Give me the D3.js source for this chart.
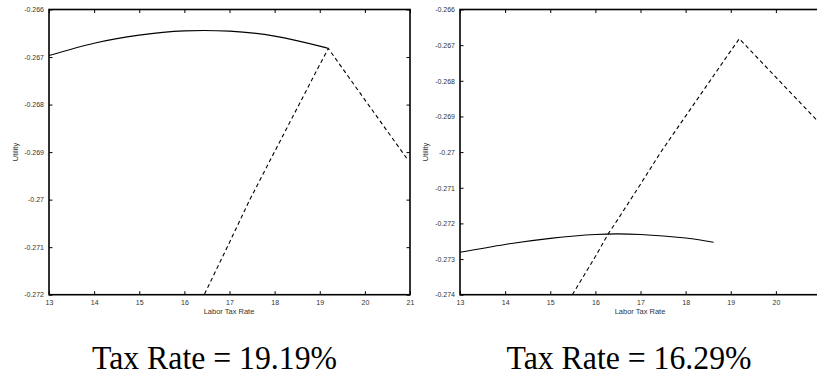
<!DOCTYPE html>
<html>
<head>
<meta charset="utf-8">
<script src="https://cdn.jsdelivr.net/npm/d3@7"></script>
<style>
  html, body { margin: 0; padding: 0; background: #fff; }
  svg { display: block; }
  .tick text { font-family: "Liberation Sans", Arial, sans-serif; font-size: 7px; fill: #333; }
  .axis-title { font-family: "Liberation Sans", Arial, sans-serif; font-size: 7.5px; fill: #333; }
  .caption { font-family: "Liberation Serif", "Times New Roman", serif; font-size: 33px; fill: #000; }
</style>
</head>
<body>
<svg id="chart" width="817" height="381"></svg>
<script>
// Labor tax rate axis ticks (shared by both panels)
const xTicks = [13, 14, 15, 16, 17, 18, 19, 20, 21];

// Utility ticks for each panel
const leftYTicks = [-0.266, -0.267, -0.268, -0.269, -0.27, -0.271, -0.272];
const rightYTicks = [-0.266, -0.267, -0.268, -0.269, -0.27, -0.271, -0.272, -0.273, -0.274];

// Solid curve, left panel
const leftSolidX = [13, 14, 15, 16, 17, 18, 19, 19.19];
const leftSolidY = [-0.26697, -0.26671, -0.26654, -0.26645, -0.266455, -0.26656, -0.26677, -0.26682];

// Solid curve, right panel
const rightSolidX = [13, 14, 15, 16, 17, 18, 18.62];
const rightSolidY = [-0.27281, -0.27259, -0.27242, -0.27231, -0.27231, -0.27241, -0.27253];

// Dashed curve (same in both panels)
const dashedX = [15.49, 16, 16.29, 16.44, 17, 17.45, 18, 19, 19.19, 20, 20.95];
const dashedY = [-0.274, -0.27293, -0.27228, -0.272, -0.2709, -0.27, -0.26899, -0.26716, -0.26682, -0.2679, -0.26916];

// Captions under each panel
const captions = ["Tax Rate = 19.19%", "Tax Rate = 16.29%"];

const svg = d3.select("#chart");

const panels = [
  { x0: 49, x1: 410, yDomain: [-0.272, -0.266], yTicks: leftYTicks, xLabelMax: 21,
    solidX: leftSolidX, solidY: leftSolidY, caption: captions[0], capX: 214.5, titleX: 15, xTitleX: 229 },
  { x0: 460, x1: 821, yDomain: [-0.274, -0.266], yTicks: rightYTicks, xLabelMax: 20,
    solidX: rightSolidX, solidY: rightSolidY, caption: captions[1], capX: 629, titleX: 425, xTitleX: 640 }
];

const plotTop = 9.5, plotBottom = 294.7;
const fmt = d => String(+d.toFixed(3));

panels.forEach((p, i) => {
  const x = d3.scaleLinear().domain([13, 21]).range([p.x0, p.x1]);
  const y = d3.scaleLinear().domain(p.yDomain).range([plotBottom, plotTop]);
  const g = svg.append("g");

  const clipId = "clip" + i;
  g.append("clipPath").attr("id", clipId)
    .append("rect").attr("x", p.x0).attr("y", plotTop)
    .attr("width", p.x1 - p.x0).attr("height", plotBottom - plotTop);

  // Axes with inward ticks, mirrored on top and right
  const bx = g.append("g").attr("transform", `translate(0,${plotBottom})`)
    .call(d3.axisBottom(x).tickValues(xTicks).tickSizeInner(-3.5).tickSizeOuter(0)
      .tickPadding(5).tickFormat(d => d <= p.xLabelMax ? d3.format("d")(d) : ""));
  const tx = g.append("g").attr("transform", `translate(0,${plotTop})`)
    .call(d3.axisTop(x).tickValues(xTicks).tickSizeInner(-3.5).tickSizeOuter(0).tickFormat(""));
  const ly = g.append("g").attr("transform", `translate(${p.x0},0)`)
    .call(d3.axisLeft(y).tickValues(p.yTicks).tickSizeInner(-3.5).tickSizeOuter(0)
      .tickPadding(5).tickFormat(fmt));
  const ry = g.append("g").attr("transform", `translate(${p.x1},0)`)
    .call(d3.axisRight(y).tickValues(p.yTicks).tickSizeInner(-3.5).tickSizeOuter(0).tickFormat(""));
  [bx, tx, ly, ry].forEach(a => {
    a.select(".domain").remove();
    a.selectAll(".tick line").attr("stroke", "#000").attr("stroke-width", 1);
  });

  // Frame
  g.append("rect").attr("x", p.x0).attr("y", plotTop)
    .attr("width", p.x1 - p.x0).attr("height", plotBottom - plotTop)
    .attr("fill", "none").attr("stroke", "#000").attr("stroke-width", 1.6);

  // Solid curve
  g.append("path")
    .datum(d3.zip(p.solidX, p.solidY))
    .attr("clip-path", `url(#${clipId})`)
    .attr("d", d3.line().x(d => x(d[0])).y(d => y(d[1])).curve(d3.curveNatural))
    .attr("fill", "none").attr("stroke", "#000").attr("stroke-width", 1.1);

  // Dashed curve
  g.append("path")
    .datum(d3.zip(dashedX, dashedY))
    .attr("clip-path", `url(#${clipId})`)
    .attr("d", d3.line().x(d => x(d[0])).y(d => y(d[1])))
    .attr("fill", "none").attr("stroke", "#000").attr("stroke-width", 1.1)
    .attr("stroke-dasharray", "4,3");

  // Axis titles
  g.append("text").attr("class", "axis-title")
    .attr("x", p.xTitleX).attr("y", 314).attr("text-anchor", "middle").text("Labor Tax Rate");
  g.append("text").attr("class", "axis-title")
    .attr("transform", `translate(${p.titleX},152) rotate(-90)`)
    .attr("text-anchor", "middle").attr("dy", "0.35em").text("Utility");

  // Caption
  g.append("text").attr("class", "caption")
    .attr("x", p.capX).attr("y", 369).attr("text-anchor", "middle")
    .attr("textLength", 245).attr("lengthAdjust", "spacingAndGlyphs")
    .text(p.caption);
});
</script>
</body>
</html>
